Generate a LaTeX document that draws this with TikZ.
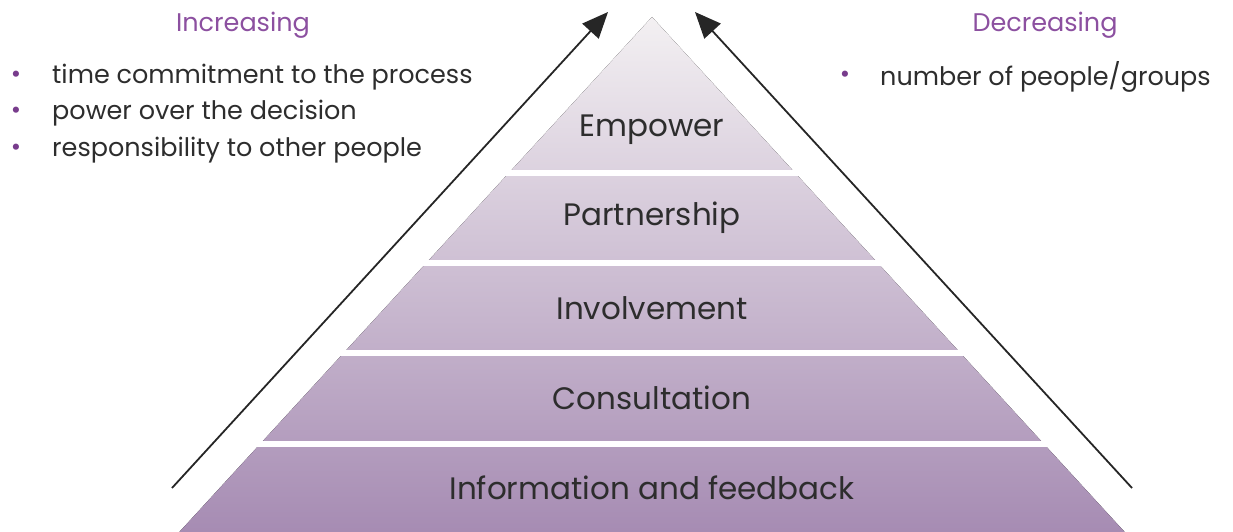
\documentclass[tikz,border=0pt]{standalone}
\usepackage{fontspec}
\setmainfont{Poppins}
\usetikzlibrary{arrows.meta}
\definecolor{txt}{RGB}{45,45,45}
\definecolor{heading}{RGB}{140,80,160}
\definecolor{bullet}{RGB}{120,60,140}
\definecolor{toppurple}{RGB}{243,240,242}
\definecolor{botpurple}{RGB}{165,138,178}
\tikzset{
  band/.style={font=\fontsize{31}{36}\selectfont, text=txt},
  head/.style={font=\fontsize{25.5}{30}\selectfont, text=heading},
  item/.style={font=\fontsize{25.5}{30}\selectfont, text=txt, anchor=west, inner sep=0pt},
  dot/.style={font=\fontsize{25}{30}\selectfont, text=bullet},
  gap/.style={draw=white, line width=6pt},
  arr/.style={line width=1.8pt, draw=black!85, -{Triangle[length=26pt,width=22pt]}}
}
\begin{document}
\begin{tikzpicture}[x=1pt,y=-1pt]
\useasboundingbox (0,0) rectangle (1233,532);
\begin{scope}
\clip (0,0) rectangle (1233,532);
\fill[top color=toppurple, bottom color=botpurple] (652,17) -- (1132,540) -- (172,540) -- cycle;
\draw[gap] (100,173) -- (1200,173);
\draw[gap] (100,263) -- (1200,263);
\draw[gap] (100,353) -- (1200,353);
\draw[gap] (100,443.5) -- (1200,443.5);
\end{scope}
\node[band] (emp) at (652,130) {Empower};
\node[band] (par) at (652,218) {Partnership};
\node[band] (inv) at (652,308) {Involvement};
\node[band] (con) at (652,398) {Consultation};
\node[band] (inf) at (652,488) {Information and feedback};
\node[head] (inc) at (243,25) {Increasing};
\node[head] (dec) at (1045,25) {Decreasing};
\node[dot] (b1) at (16,77) {•};
\node[dot] (b2) at (16,113) {•};
\node[dot] (b3) at (16,150) {•};
\node[item] (t1) at (52,77) {time commitment to the process};
\node[item] (t2) at (52,113) {power over the decision};
\node[item] (t3) at (52,150) {responsibility to other people};
\node[dot] (b4) at (845,77) {•};
\node[item] (t4) at (880,77) {number of people/groups};
\coordinate (la) at (172,488);
\coordinate (lb) at (608,12);
\coordinate (ra) at (1132,488);
\coordinate (rb) at (695,12);
\draw[arr] (la) -- (lb);
\draw[arr] (ra) -- (rb);
\end{tikzpicture}
\end{document}
